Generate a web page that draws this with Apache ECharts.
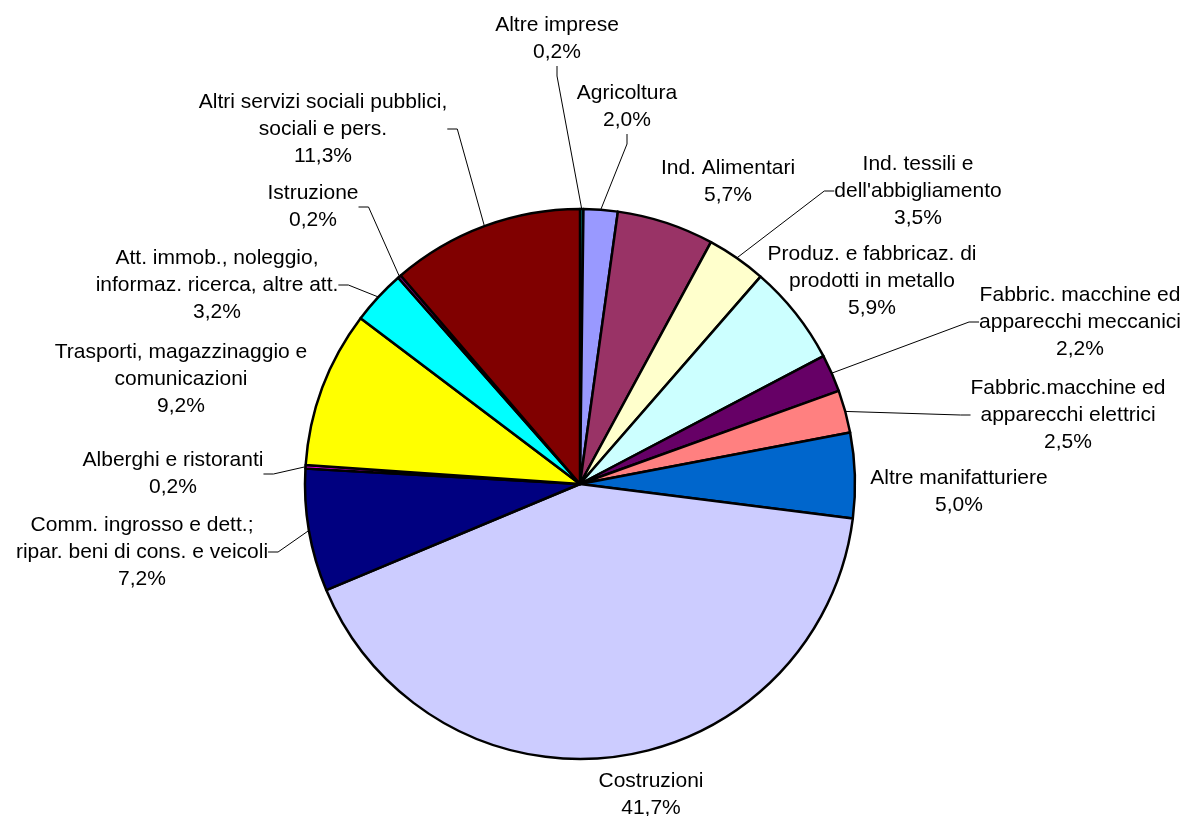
<!DOCTYPE html>
<html><head><meta charset="utf-8">
<script src="https://cdn.jsdelivr.net/npm/echarts@6/dist/echarts.min.js"></script>
<style>html,body{margin:0;padding:0;background:#fff}#c{width:1186px;height:816px}</style>
</head><body><div id="c"></div>
<script>
const categories = [
  "Altre imprese",
  "Agricoltura",
  "Ind. Alimentari",
  "Ind. tessili e\ndell'abbigliamento",
  "Produz. e fabbricaz. di\nprodotti in metallo",
  "Fabbric. macchine ed\napparecchi meccanici",
  "Fabbric.macchine ed\napparecchi elettrici",
  "Altre manifatturiere",
  "Costruzioni",
  "Comm. ingrosso e dett.;\nripar. beni di cons. e veicoli",
  "Alberghi e ristoranti",
  "Trasporti, magazzinaggio e\ncomunicazioni",
  "Att. immob., noleggio,\ninformaz. ricerca, altre att.",
  "Istruzione",
  "Altri servizi sociali pubblici,\nsociali e pers."
];
const values = [0.2, 2.0, 5.7, 3.5, 5.9, 2.2, 2.5, 5.0, 41.7, 7.2, 0.2, 9.2, 3.2, 0.2, 11.3];
const colors = ["#008080","#9999FF","#993366","#FFFFCC","#CCFFFF","#660066","#FF8080","#0066CC","#CCCCFF","#000080","#FF00FF","#FFFF00","#00FFFF","#800080","#800000"];
// label anchor positions and leader-line visibility (layout only)
const labelPos = [
  [557,39],[627,107],[728,182],[918,191],[872,281],[1080,322],[1068,415],[959,492],
  [651,795],[142,552],[173,474],[181,379],[217,285],[313,207],[323,129]
];
const showLine = [1,1,0,1,0,1,1,0,0,1,1,0,1,1,1];

const chart = echarts.init(document.getElementById('c'), null, {renderer:'canvas'});
chart.setOption({
  animation:false,
  color: colors,
  series:[{
    type:'pie',
    center:[580,484],
    radius:275,
    startAngle:90,
    clockwise:true,
    data: categories.map((n,i)=>({name:n, value:values[i], labelLine:{show:!!showLine[i]}})),
    itemStyle:{borderColor:'#000', borderWidth:2.5},
    label:{
      show:true,
      formatter: p => p.name + '\n' + p.value.toFixed(1).replace('.', ',') + '%',
      fontFamily:'Liberation Sans, Arial, sans-serif',
      fontSize:21,
      lineHeight:27,
      color:'#000',
      align:'center'
    },
    labelLine:{show:true, length:10, length2:10, lineStyle:{color:'#000', width:1}},
    labelLayout: function(params){
      const p = labelPos[params.dataIndex];
      return {x:p[0], y:p[1], align:'center', verticalAlign:'middle'};
    },
    emphasis:{disabled:true}
  }]
});
</script></body></html>
